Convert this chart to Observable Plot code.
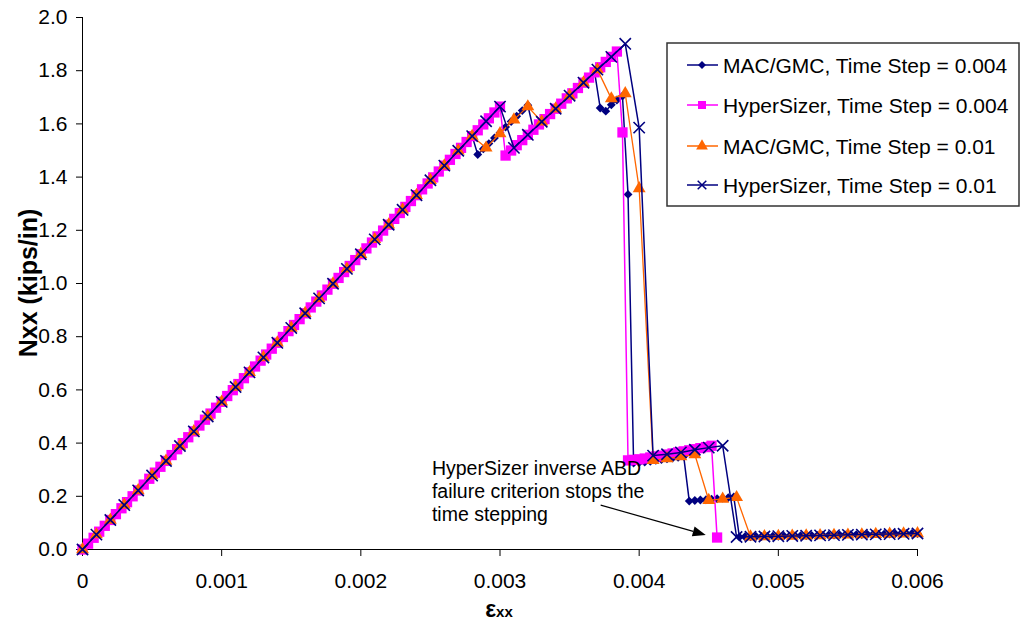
<!DOCTYPE html>
<html>
<head>
<meta charset="utf-8">
<script src="https://cdn.jsdelivr.net/npm/d3@7"></script>
<script src="https://cdn.jsdelivr.net/npm/@observablehq/plot@0.6"></script>
<style>
  html, body { margin: 0; padding: 0; background: #fff; }
  #chart svg { display: block; }
</style>
</head>
<body>
<div id="chart"></div>
<script>
// ---- strain grids (microstrain) ----
const strainFine = [
  0,40,80,120,160,200,240,280,320,360,400,440,480,520,560,600,640,680,720,760,
  800,840,880,920,960,1000,1040,1080,1120,1160,1200,1240,1280,1320,1360,1400,1440,1480,1520,1560,
  1600,1640,1680,1720,1760,1800,1840,1880,1920,1960,2000,2040,2080,2120,2160,2200,2240,2280,2320,2360,
  2400,2440,2480,2520,2560,2600,2640,2680,2720,2760,2800,2840,2880,2920,2960,3000,3040,3080,3120,3160,
  3200,3240,3280,3320,3360,3400,3440,3480,3520,3560,3600,3640,3680,3720,3760,3800,3840,3880,3920,3960,
  4000,4040,4080,4120,4160,4200,4240,4280,4320,4360,4400,4440,4480,4520,4560,4600,4640,4680,4720,4760,
  4800,4840,4880,4920,4960,5000,5040,5080,5120,5160,5200,5240,5280,5320,5360,5400,5440,5480,5520,5560,
  5600,5640,5680,5720,5760,5800,5840,5880,5920,5960,6000
];
const strainCoarse = [
  0,100,200,300,400,500,600,700,800,900,1000,1100,1200,1300,1400,1500,1600,1700,1800,1900,
  2000,2100,2200,2300,2400,2500,2600,2700,2800,2900,3000,3100,3200,3300,3400,3500,3600,3700,3800,3900,
  4000,4100,4200,4300,4400,4500,4600,4700,4800,4900,5000,5100,5200,5300,5400,5500,5600,5700,5800,5900,6000
];

// ---- Nxx values (kips/in) ----
const macGmc004 = [
  0,0.022,0.044,0.067,0.089,0.111,0.133,0.155,0.178,0.2,
  0.222,0.244,0.266,0.289,0.311,0.333,0.355,0.377,0.4,0.422,
  0.444,0.466,0.488,0.511,0.533,0.555,0.577,0.599,0.622,0.644,
  0.666,0.688,0.71,0.733,0.755,0.777,0.799,0.821,0.844,0.866,
  0.888,0.91,0.932,0.955,0.977,0.999,1.021,1.043,1.066,1.088,
  1.11,1.132,1.154,1.177,1.199,1.221,1.243,1.265,1.288,1.31,
  1.332,1.354,1.376,1.399,1.421,1.443,1.465,1.487,1.51,1.532,
  1.554,
  1.485,1.506,1.526,1.547,1.567,1.588,1.609,1.629,1.65,1.67,
  1.578,1.598,1.618,1.637,1.657,1.676,1.696,1.715,1.735,1.755,1.774,1.794,
  1.66,1.648,1.672,1.69,1.705,1.335,
  0.325,0.327,0.329,0.332,0.335,0.338,0.341,0.344,0.347,0.35,
  0.182,0.184,0.186,0.187,0.189,0.191,0.193,0.195,0.198,
  0.047,0.048,0.048,0.049,0.049,0.05,0.05,0.05,0.051,0.051,0.052,0.052,0.052,0.053,0.053,0.054,0.054,
  0.054,0.055,0.055,0.056,0.056,0.056,0.057,0.057,0.058,0.058,0.058,0.059,0.059,0.06,0.06,0.06
];
const hyperSizer004 = [
  0,0.022,0.044,0.067,0.089,0.111,0.133,0.155,0.178,0.2,
  0.222,0.244,0.266,0.289,0.311,0.333,0.355,0.377,0.4,0.422,
  0.444,0.466,0.488,0.511,0.533,0.555,0.577,0.599,0.622,0.644,
  0.666,0.688,0.71,0.733,0.755,0.777,0.799,0.821,0.844,0.866,
  0.888,0.91,0.932,0.955,0.977,0.999,1.021,1.043,1.066,1.088,
  1.11,1.132,1.154,1.177,1.199,1.221,1.243,1.265,1.288,1.31,
  1.332,1.354,1.376,1.399,1.421,1.443,1.465,1.487,1.51,1.532,
  1.554,1.576,1.598,1.621,1.643,1.665,
  1.481,1.5,1.52,1.539,1.559,1.578,1.598,1.618,1.637,1.657,1.676,1.696,1.715,1.735,1.755,1.774,
  1.794,1.813,1.833,1.852,1.872,1.568,
  0.335,0.337,0.339,0.342,0.346,0.35,0.353,0.357,0.361,0.365,0.369,0.373,0.377,0.381,0.385,0.39,
  0.045
];
const macGmc01 = [
  0,0.056,0.111,0.167,0.222,0.278,0.333,0.389,0.444,0.5,
  0.555,0.611,0.666,0.722,0.777,0.833,0.888,0.944,0.999,1.055,
  1.11,1.166,1.221,1.277,1.332,1.388,1.443,1.499,1.554,
  1.51,1.564,1.616,1.665,1.608,1.657,1.706,1.755,1.804,1.695,1.714,1.357,
  0.335,0.342,0.35,0.357,0.185,0.19,0.196,
  0.048,0.049,0.05,0.051,0.052,0.053,0.054,0.055,0.056,0.057,0.058,0.059,0.06
];
const hyperSizer01 = [
  0,0.056,0.111,0.167,0.222,0.278,0.333,0.389,0.444,0.5,
  0.555,0.611,0.666,0.722,0.777,0.833,0.888,0.944,0.999,1.055,
  1.11,1.166,1.221,1.277,1.332,1.388,1.443,1.499,1.554,1.61,1.665,
  1.51,1.559,1.608,1.657,1.706,1.755,1.804,1.852,1.901,1.586,
  0.353,0.358,0.365,0.375,0.383,0.39,
  0.047,0.048,0.049,0.05,0.051,0.052,0.053,0.054,0.055,0.056,0.057,0.058,0.059,0.06
];

const seriesNames = [
  "MAC/GMC, Time Step = 0.004",
  "HyperSizer, Time Step = 0.004",
  "MAC/GMC, Time Step = 0.01",
  "HyperSizer, Time Step = 0.01"
];
const xTicks = [0, 0.001, 0.002, 0.003, 0.004, 0.005, 0.006];
const yTicks = [0, 0.2, 0.4, 0.6, 0.8, 1.0, 1.2, 1.4, 1.6, 1.8, 2.0];
const xTitle = ["ε", "xx"];
const yTitle = "Nxx (kips/in)";
const noteLines = ["HyperSizer inverse ABD", "failure criterion stops the", "time stepping"];
const notePos = {x: 0.002511, y: 0.222};
const arrowFrom = {x: 0.003727, y: 0.165};
const arrowTo = {x: 0.004482, y: 0.053};

// ---- styles ----
const colors = ["#000080", "#FF00FF", "#FF6600", "#000080"];
const FONT = "'Liberation Sans', Arial, Helvetica, sans-serif";

const pts = (strain, vals) => vals.map((v, i) => ({x: strain[i] / 1e6, y: v}));
const dMac004 = pts(strainFine, macGmc004);
const dHs004 = pts(strainFine, hyperSizer004);
const dMac01 = pts(strainCoarse, macGmc01);
const dHs01 = pts(strainCoarse, hyperSizer01);

const chart = Plot.plot({
  width: 1021,
  height: 626,
  marginLeft: 82,
  marginRight: 104,
  marginTop: 17,
  marginBottom: 77,
  style: `font-family: ${FONT}; font-size: 21px; color: #000; background: #fff; overflow: visible;`,
  x: {domain: [0, 0.006], ticks: xTicks, tickFormat: d => d === 0 ? "0" : d3.format(".3f")(d), label: null, tickSize: 7, tickPadding: 17},
  y: {domain: [0, 2], ticks: yTicks, tickFormat: d3.format(".1f"), label: null, tickSize: 6, tickPadding: 9},
  marks: [
    Plot.ruleX([0], {stroke: "#000", strokeWidth: 1}),
    Plot.ruleY([0], {stroke: "#000", strokeWidth: 1}),
    Plot.line(dMac004, {x: "x", y: "y", stroke: colors[0], strokeWidth: 1.5}),
    Plot.dot(dMac004, {x: "x", y: "y", symbol: "diamond2", r: 4, fill: colors[0], stroke: "none"}),
    Plot.line(dHs004, {x: "x", y: "y", stroke: colors[1], strokeWidth: 1.5}),
    Plot.dot(dHs004, {x: "x", y: "y", symbol: "square", r: 5.8, fill: colors[1], stroke: "none"}),
    Plot.line(dMac01, {x: "x", y: "y", stroke: colors[2], strokeWidth: 1.3}),
    Plot.dot(dMac01, {x: "x", y: "y", symbol: "triangle", r: 4.8, fill: colors[2], stroke: "none"}),
    Plot.line(dHs01, {x: "x", y: "y", stroke: colors[3], strokeWidth: 1.5}),
    Plot.dot(dHs01, {x: "x", y: "y", symbol: "times", r: 5.2, fill: "none", stroke: colors[3], strokeWidth: 1.6}),
    Plot.text([notePos], {x: "x", y: "y", text: () => noteLines.join("\n"), textAnchor: "start", lineAnchor: "middle", lineHeight: 1.2, fontSize: 19.5, fill: "#000"})
  ]
});

document.getElementById("chart").appendChild(chart);

const svg = d3.select(chart);
const sx = chart.scale("x"), sy = chart.scale("y");

// arrow
{
  const x1 = sx.apply(arrowFrom.x), y1 = sy.apply(arrowFrom.y);
  const x2 = sx.apply(arrowTo.x), y2 = sy.apply(arrowTo.y);
  const ang = Math.atan2(y2 - y1, x2 - x1);
  const hl = 13, hw = 5;
  const bx = x2 - hl * Math.cos(ang), by = y2 - hl * Math.sin(ang);
  const g = svg.append("g");
  g.append("line").attr("x1", x1).attr("y1", y1).attr("x2", bx).attr("y2", by)
    .attr("stroke", "#000").attr("stroke-width", 1.2);
  const px = -Math.sin(ang), py = Math.cos(ang);
  g.append("path")
    .attr("d", `M${x2},${y2}L${bx + hw * px},${by + hw * py}L${bx - hw * px},${by - hw * py}Z`)
    .attr("fill", "#000");
}

// axis titles
svg.append("text")
  .attr("transform", "translate(28,283) rotate(-90)")
  .attr("text-anchor", "middle").attr("dominant-baseline", "central")
  .attr("font-family", FONT).attr("font-weight", "bold").attr("font-size", 25)
  .attr("fill", "#000").text(yTitle);
{
  const t = svg.append("text")
    .attr("x", 499).attr("y", 617).attr("text-anchor", "middle")
    .attr("font-family", FONT).attr("font-weight", "bold").attr("fill", "#000");
  t.append("tspan").attr("font-size", 23).text(xTitle[0]);
  t.append("tspan").attr("font-size", 15).text(xTitle[1]);
}

// legend
{
  const g = svg.append("g").attr("text-anchor", "start");
  g.append("rect").attr("x", 667).attr("y", 43).attr("width", 352).attr("height", 163)
    .attr("fill", "#fff").attr("stroke", "#333").attr("stroke-width", 1.5);
  const rowsY = [65, 105, 146, 185];
  const syms = [
    {s: d3.symbolDiamond2, size: 40, fill: colors[0], stroke: "none"},
    {s: d3.symbolSquare, size: 64, fill: colors[1], stroke: "none"},
    {s: d3.symbolTriangle, size: 60, fill: colors[2], stroke: "none"},
    {s: d3.symbolTimes, size: 50, fill: "none", stroke: colors[3]}
  ];
  seriesNames.forEach((name, i) => {
    const y = rowsY[i];
    g.append("line").attr("x1", 687).attr("x2", 718).attr("y1", y).attr("y2", y)
      .attr("stroke", colors[i]).attr("stroke-width", 1.5);
    g.append("path").attr("transform", `translate(702,${y})`)
      .attr("d", d3.symbol(syms[i].s, syms[i].size)())
      .attr("fill", syms[i].fill).attr("stroke", syms[i].stroke).attr("stroke-width", 1.5);
    g.append("text").attr("x", 723).attr("y", y).attr("dominant-baseline", "central")
      .attr("text-anchor", "start")
      .attr("font-family", FONT).attr("font-size", 21).attr("fill", "#000").text(name);
  });
}
</script>
</body>
</html>
